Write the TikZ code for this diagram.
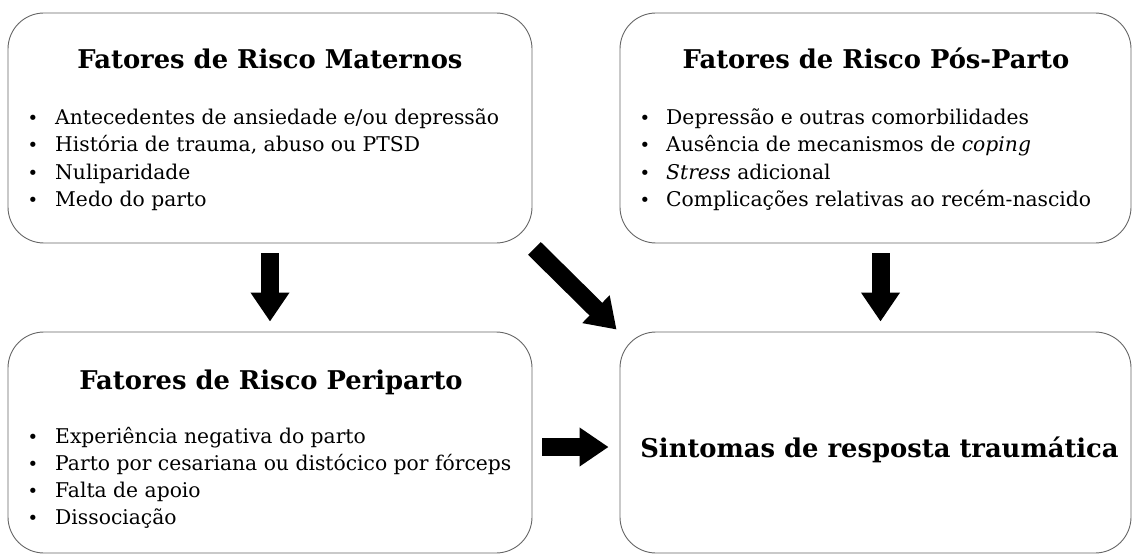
\documentclass[tikz,border=0pt]{standalone}
\usepackage{fontspec}
\setmainfont{DejaVu Serif}
\usetikzlibrary{arrows.meta}
\begin{document}
\begin{tikzpicture}[x=1pt,y=-1pt,
  box/.style={draw=black!60, line width=0.9pt, rounded corners=36pt, inner sep=0pt},
  ttl/.style={font=\fontsize{25.8}{30}\selectfont\bfseries, anchor=base, inner sep=0pt},
  itm/.style={font=\fontsize{20.3}{24}\selectfont, anchor=base west, inner sep=0pt},
  blt/.style={font=\fontsize{18}{24}\selectfont, anchor=base, inner sep=0pt},
  blk/.style={line width=18pt, -{Triangle[length=29pt 0 0, width=37pt 0]}}]
\useasboundingbox (0,0) rectangle (1134,556);
\fill[white] (0,0) rectangle (1134,556);
% boxes
\node[box, minimum width=524pt, minimum height=230pt] (b1) at (270,128) {};
\node[box, minimum width=511pt, minimum height=230pt] (b2) at (875.5,128) {};
\node[box, minimum width=524pt, minimum height=221pt] (b3) at (270,442.5) {};
\node[box, minimum width=511pt, minimum height=221pt] (b4) at (875.5,442.5) {};
% titles
\node[ttl] (t1) at (270,69) {Fatores de Risco Maternos};
\node[ttl] (t2) at (876,69) {Fatores de Risco Pós-Parto};
\node[ttl] (t3) at (271,389) {Fatores de Risco Periparto};
\node[ttl] (t4) at (879.5,457) {Sintomas de resposta traumática};
% box 1 items
\node[blt] (p11) at (33,125) {•};
\node[blt] (p12) at (33,152) {•};
\node[blt] (p13) at (33,179) {•};
\node[blt] (p14) at (33,206) {•};
\node[itm] (i11) at (55,125) {Antecedentes de ansiedade e/ou depressão};
\node[itm] (i12) at (55,152) {História de trauma, abuso ou PTSD};
\node[itm] (i13) at (55,179) {Nuliparidade};
\node[itm] (i14) at (55,206) {Medo do parto};
% box 2 items
\node[blt] (p21) at (645,125) {•};
\node[blt] (p22) at (645,152) {•};
\node[blt] (p23) at (645,179) {•};
\node[blt] (p24) at (645,206) {•};
\node[itm] (i21) at (666,125) {Depressão e outras comorbilidades};
\node[itm] (i22) at (666,152) {Ausência de mecanismos de \textit{coping}};
\node[itm] (i23) at (666,179) {\textit{Stress} adicional};
\node[itm] (i24) at (666,206) {Complicações relativas ao recém-nascido};
% box 3 items
\node[blt] (p31) at (33,443.5) {•};
\node[blt] (p32) at (33,470.5) {•};
\node[blt] (p33) at (33,497.5) {•};
\node[blt] (p34) at (33,524.5) {•};
\node[itm] (i31) at (55,443.5) {Experiência negativa do parto};
\node[itm] (i32) at (55,470.5) {Parto por cesariana ou distócico por fórceps};
\node[itm] (i33) at (55,497.5) {Falta de apoio};
\node[itm] (i34) at (55,524.5) {Dissociação};
% arrows
\draw[blk] ([yshift=-10pt]b1.south) -- ([yshift=10pt]b3.north);
\draw[blk] ([xshift=5pt,yshift=-10pt]b2.south) -- ([xshift=5pt,yshift=10pt]b4.north);
\draw[blk] ([shift={(2pt,-5pt)}]b1.south east) -- ([shift={(-3pt,2pt)}]b4.north west);
\draw[blk] ([shift={(10pt,-4.5pt)}]b3.east) -- ([shift={(-11pt,-4.5pt)}]b4.west);
\end{tikzpicture}
\end{document}
